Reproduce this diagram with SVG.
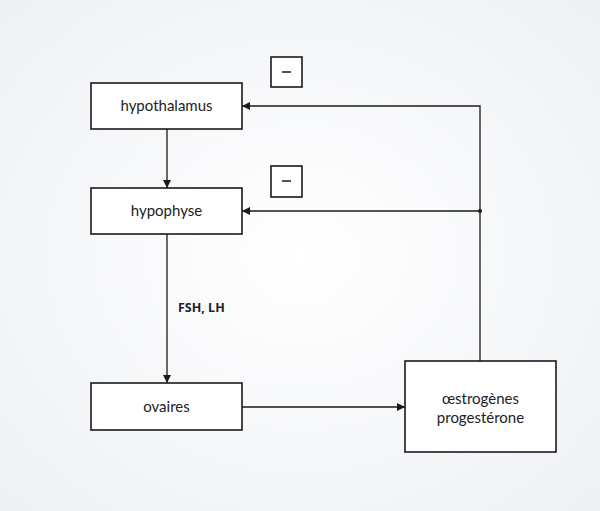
<svg xmlns="http://www.w3.org/2000/svg" width="600" height="511" viewBox="0 0 600 511">
<defs>
<marker id="ah" markerWidth="10" markerHeight="10" refX="9" refY="5" orient="auto" markerUnits="userSpaceOnUse">
<path d="M1,1 L9,5 L1,9 Z" fill="#1a1a1a"/>
</marker>
<radialGradient id="bg" cx="50%" cy="50%" r="70%">
<stop offset="0" stop-color="#ffffff"/>
<stop offset="1" stop-color="#eef0f4"/>
</radialGradient>
<style>
.box{fill:#fff;stroke:#1a1a1a;stroke-width:1.6}
.t{font-family:Lato,"Noto Sans",sans-serif;font-size:15px;fill:#222;text-anchor:middle}
.b{font-family:"Open Sans","Noto Sans",sans-serif;font-size:12.5px;font-weight:bold;fill:#222}
.c{stroke:#1a1a1a;stroke-width:1.3;fill:none}
</style>
</defs>
<rect width="600" height="511" fill="url(#bg)"/>
<g id="connectors">
<line class="c" x1="167" y1="129" x2="167" y2="188" marker-end="url(#ah)"/>
<line class="c" x1="167" y1="234" x2="167" y2="383" marker-end="url(#ah)"/>
<line class="c" x1="242" y1="407" x2="405" y2="407" marker-end="url(#ah)"/>
<polyline class="c" points="480,361 480,106 242,106" marker-end="url(#ah)"/>
<line class="c" x1="480" y1="211" x2="242" y2="211" marker-end="url(#ah)"/>
<circle cx="480" cy="211" r="2" fill="#1a1a1a"/>
<text class="b" x="178" y="312">FSH, LH</text>
</g>
<g id="minus1"><rect class="box" x="271" y="57" width="31" height="30"/><line x1="282" y1="72" x2="291" y2="72" stroke="#1a1a1a" stroke-width="1.5"/></g>
<g id="minus2"><rect class="box" x="271" y="166" width="31" height="31"/><line x1="282" y1="181" x2="291" y2="181" stroke="#1a1a1a" stroke-width="1.5"/></g>
<g id="hypothalamus"><rect class="box" x="91" y="83" width="151" height="46"/><text class="t" x="166.5" y="111">hypothalamus</text></g>
<g id="hypophyse"><rect class="box" x="91" y="188" width="151" height="46"/><text class="t" x="166.5" y="216">hypophyse</text></g>
<g id="ovaires"><rect class="box" x="91" y="383" width="151" height="47"/><text class="t" x="166.5" y="412">ovaires</text></g>
<g id="oestrogenes"><rect class="box" x="405" y="361" width="151" height="91"/><text class="t" x="480.5" y="404">œstrogènes</text><text class="t" x="480.5" y="423">progestérone</text></g>
</svg>
